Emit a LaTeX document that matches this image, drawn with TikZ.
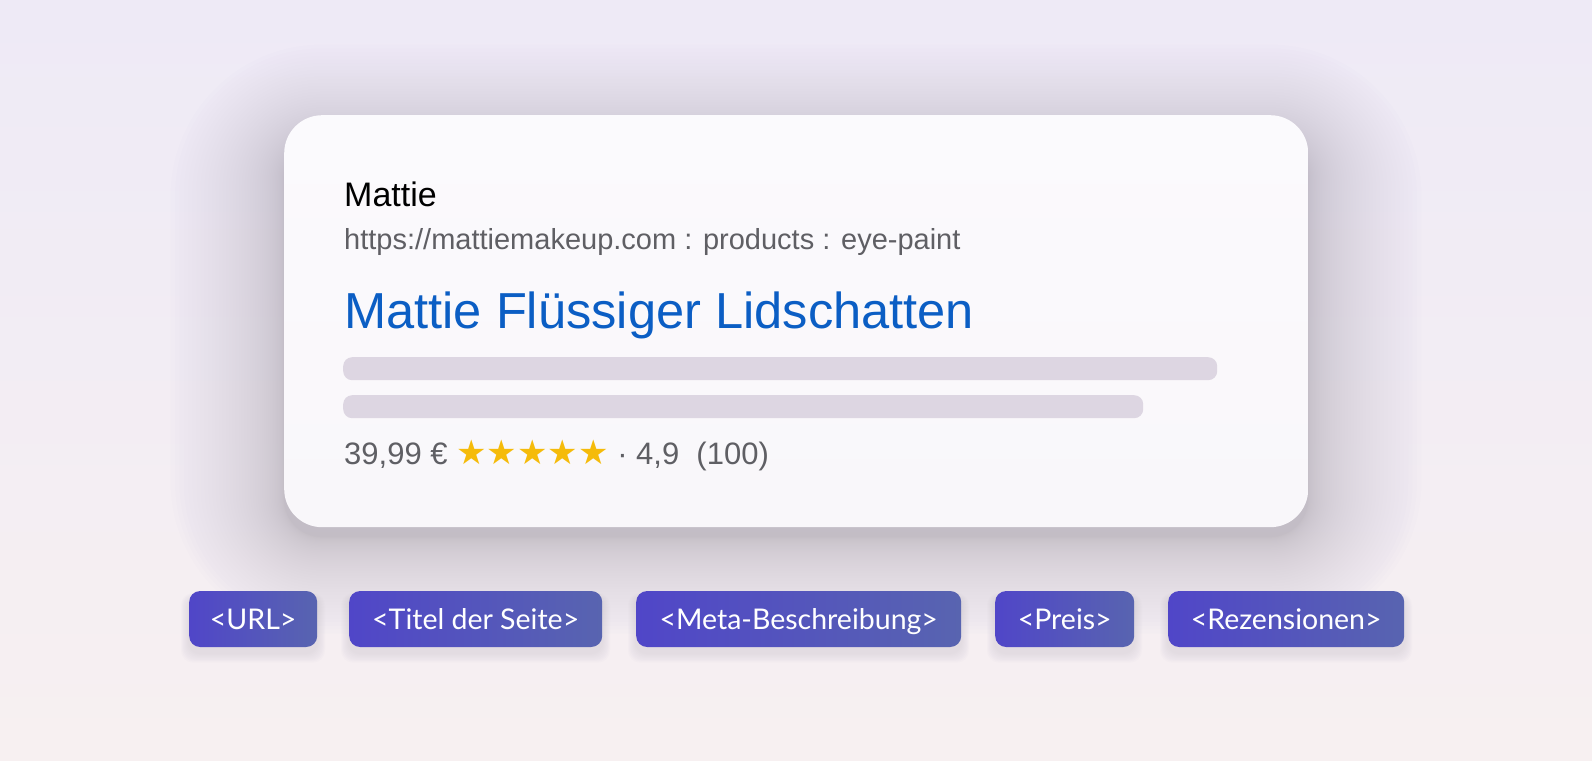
\documentclass[tikz,border=0pt]{standalone}
\usepackage{fontspec}
\setmainfont{Liberation Sans}
\newfontfamily\tagfont{Lato}
\newfontfamily\symfont{DejaVu Sans}
\definecolor{bgtop}{RGB}{238,234,246}
\definecolor{bgbot}{RGB}{247,240,241}
\definecolor{cardtop}{RGB}{251,250,253}
\definecolor{cardbot}{RGB}{249,247,250}
\definecolor{barc}{RGB}{221,214,226}
\definecolor{titleblue}{RGB}{11,94,196}
\definecolor{urlgray}{RGB}{95,95,100}
\definecolor{starc}{RGB}{245,187,10}
\definecolor{tagL}{RGB}{80,70,200}
\definecolor{tagR}{RGB}{88,100,176}
\definecolor{shadowc}{RGB}{110,104,140}
\tikzset{
  cardbox/.style={top color=cardtop, bottom color=cardbot, rounded corners=38pt, inner sep=0pt, anchor=north west},
  barbox/.style={fill=barc, rounded corners=9pt, inner sep=0pt, minimum height=23pt, anchor=north west},
  txt/.style={anchor=base west, inner sep=0pt},
  tagbox/.style={left color=tagL, right color=tagR, rounded corners=11pt, minimum height=56pt, inner sep=0pt, text height=26pt, text depth=5pt, text=white, font=\tagfont\fontsize{28.5}{32}\selectfont, anchor=west},
}
\begin{document}
\begin{tikzpicture}[x=1pt,y=-1pt]
\shade[top color=bgtop, bottom color=bgbot] (0,0) rectangle (1592,760);
\useasboundingbox (0,0) rectangle (1592,760);
% card shadow
\foreach \i in {1,...,45}{
  \pgfmathsetmacro\d{0.12*\i^1.8}
  \pgfmathsetmacro\rr{38+\d}
  \fill[shadowc, opacity=0.0085, rounded corners=\rr pt] (284-\d, 115+26-\d*0.85) rectangle (1308+\d, 527+10+\d*0.85);
}
\node[cardbox, minimum width=1024pt, minimum height=412pt] (card) at (284,115) {};
\node[txt, font=\fontsize{34}{40}\selectfont] (site) at (344,206) {Mattie};
\node[txt, text=urlgray, font=\fontsize{29}{34}\selectfont] (url) at (344,249) {https://mattiemakeup.com : products : eye-paint};
\node[txt, text=titleblue, font=\fontsize{50.6}{58}\selectfont] (title) at (344,328) {Mattie Flüssiger Lidschatten};
\node[barbox, minimum width=874pt] (bar1) at (343,357) {};
\node[barbox, minimum width=800pt] (bar2) at (343,395) {};
\node[txt, text=urlgray, font=\fontsize{31}{36}\selectfont] (price) at (344,464) {39,99 € {\color{starc}\symfont\fontsize{34}{36}\selectfont ★★★★★} · 4,9\ \ (100)};
% tags
\foreach \x/\w/\n/\t in {189/128/t1/{<URL>}, 349/253/t2/{<Titel der Seite>}, 636/325/t3/{<Meta-Beschreibung>}, 995/139/t4/{<Preis>}, 1168/236/t5/{<Rezensionen>}}{
  \foreach \k in {1,...,8}{
    \fill[shadowc, opacity=0.015, rounded corners=12pt] (\x-\k, 591+6-\k*0.5) rectangle (\x+\w+\k, 647+6+\k*1.2);
  }
  \node[tagbox, minimum width=\w pt] (\n) at (\x,619) {\t};
}
\end{tikzpicture}
\end{document}
